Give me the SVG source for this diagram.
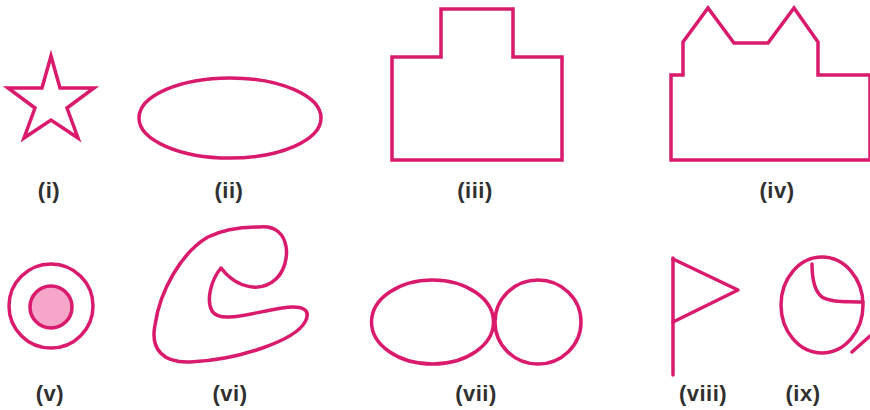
<svg xmlns="http://www.w3.org/2000/svg" width="870" height="410" viewBox="0 0 870 410">
<style>
.s{fill:none;stroke:#d91a6d;stroke-width:3.5;stroke-linejoin:miter;stroke-linecap:round}
.r{stroke-linejoin:round}
.l{font-family:"Liberation Sans",Arial,sans-serif;font-size:22px;font-weight:bold;fill:#303030;text-anchor:middle;letter-spacing:0.5px}
</style>
<rect width="870" height="410" fill="#fff"/>
<g id="shape-i">
<polygon class="s" points="51,56 60,88 94,88 67,108 78,138 51,120 24,138 35,108 8,88 42,88"/>
<text class="l" x="49" y="198">(i)</text>
</g>
<g id="shape-ii">
<ellipse class="s" cx="230" cy="118" rx="91" ry="40"/>
<text class="l" x="229" y="198">(ii)</text>
</g>
<g id="shape-iii">
<path class="s" d="M392,160 V57 H441 V9 H513 V57 H562 V160 Z"/>
<text class="l" x="475" y="198">(iii)</text>
</g>
<g id="shape-iv">
<path class="s" d="M671,160 V75 H683 V42 L708,8 L734,43 H768 L794,8 L818,42 V75 H870 V160 Z"/>
<text class="l" x="777" y="198">(iv)</text>
</g>
<g id="shape-v">
<circle class="s" cx="51" cy="306" r="42"/>
<circle class="s" cx="51" cy="307" r="21" style="fill:#f6a6c9"/>
<text class="l" x="50" y="401">(v)</text>
</g>
<g id="shape-vi">
<path class="s r" d="M260,227 C292,224 292,264 276,279 C262,292 238,290 221,268 C211,280 206,300 212,311 C220,324 250,313 282,308 C302,305 312,309 305,322 C295,340 240,360 190,362 C164,363 150,350 155,325 C160,290 182,252 208,237 C224,229 244,227 260,227 Z"/>
<text class="l" x="230" y="401">(vi)</text>
</g>
<g id="shape-vii">
<ellipse class="s" cx="432.5" cy="322" rx="61" ry="42"/>
<ellipse class="s" cx="538" cy="322" rx="43" ry="42"/>
<text class="l" x="476" y="401">(vii)</text>
</g>
<g id="shape-viii">
<path class="s" d="M673,258 V375"/>
<path class="s r" d="M673,259 L738,290 L673,322"/>
<text class="l" x="703" y="401">(viii)</text>
</g>
<g id="shape-ix">
<ellipse class="s" cx="822" cy="305" rx="41" ry="48"/>
<path class="s r" d="M812,264 C812,276 813,290 822,297 C832,303 848,301 863,302"/>
<path class="s" d="M852,352 L870,336"/>
<text class="l" x="803" y="401">(ix)</text>
</g>
</svg>
